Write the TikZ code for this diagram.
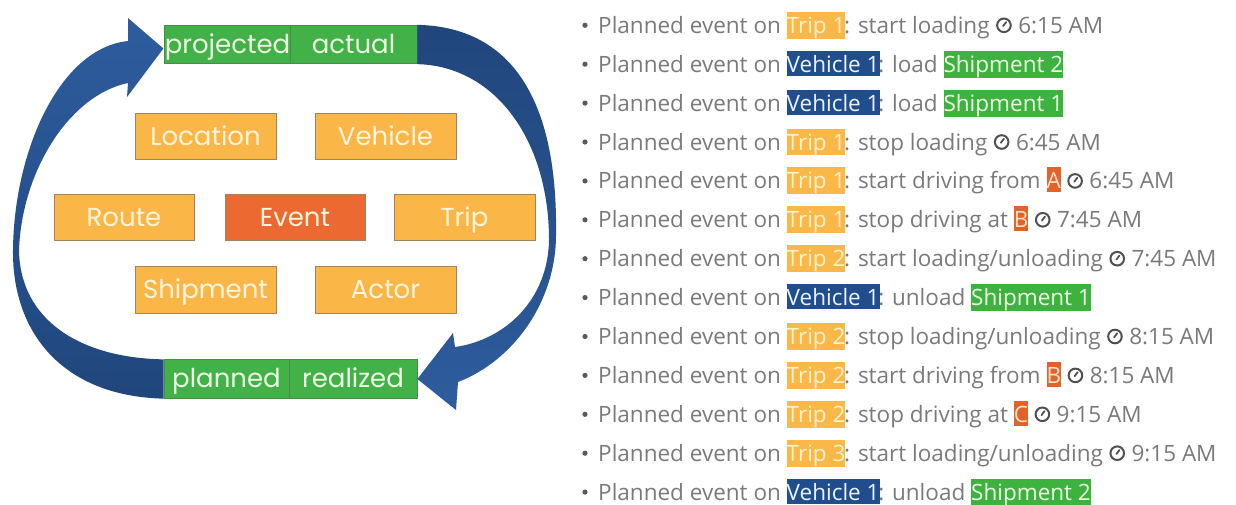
\documentclass[tikz,border=0pt]{standalone}
\usepackage{fontspec}
\usetikzlibrary{calc}
\setmainfont{Open Sans}
\newfontfamily\popfont{Poppins}
\definecolor{arrowlight}{RGB}{46,92,158}
\definecolor{arrowdark}{RGB}{32,70,124}
\definecolor{boxgreen}{RGB}{66,178,72}
\definecolor{greenedge}{RGB}{72,140,72}
\definecolor{boxorange}{RGB}{251,182,72}
\definecolor{orangeedge}{RGB}{165,130,95}
\definecolor{eventred}{RGB}{236,106,50}
\definecolor{lighttext}{RGB}{255,245,220}
\definecolor{greentext}{RGB}{236,250,228}
\definecolor{listgray}{RGB}{122,122,122}
\definecolor{bulletgray}{RGB}{90,90,90}
\definecolor{clockgray}{RGB}{80,80,80}
\definecolor{hltrip}{RGB}{250,184,72}
\definecolor{triptext}{RGB}{255,242,205}
\definecolor{hlveh}{RGB}{32,78,140}
\definecolor{vehtext}{RGB}{235,242,255}
\definecolor{hlship}{RGB}{62,178,62}
\definecolor{shiptext}{RGB}{235,255,230}
\definecolor{hlloc}{RGB}{226,98,42}
\definecolor{loctext}{RGB}{255,225,200}
\setlength{\fboxsep}{0pt}
\newcommand\hlbox[3]{\colorbox{#1}{\rule[-3.5pt]{0pt}{25pt}\textcolor{#2}{#3}}}
\newcommand\tripmark[1]{\hlbox{hltrip}{triptext}{Trip #1}\kern-1.2pt}
\newcommand\vehmark{\hlbox{hlveh}{vehtext}{Vehicle 1}\kern-1.2pt}
\newcommand\shipmark[1]{\hlbox{hlship}{shiptext}{Shipment #1}}
\newcommand\locmark[1]{\hlbox{hlloc}{loctext}{#1}}
\newcommand\clockmark{\tikz[baseline=0pt, x=1pt, y=1pt]{\path (-8.5,0) rectangle (8.5,16);
  \draw[clockgray, line width=2pt] (0,8) circle (6.8pt);
  \draw[clockgray, line width=1.8pt, line cap=round] (-0.8,7.2) -- (2.2,11.2);}}
\begin{document}
\begin{tikzpicture}[x=1pt,y=-1pt,
  obox/.style={draw=orangeedge, line width=0.8pt, fill=boxorange, minimum width=141pt, minimum height=46pt, inner sep=0pt, text height=18pt, text depth=0pt, text=lighttext, font=\popfont\fontsize{26}{26}\selectfont},
  ebox/.style={obox, fill=eventred, minimum width=140pt},
  gbox/.style={draw=greenedge, line width=0.8pt, fill=boxgreen, minimum height=38.5pt, inner sep=0pt, text height=17pt, text depth=0pt, text=greentext, font=\popfont\fontsize{26}{26}\selectfont},
  listline/.style={anchor=base west, inner sep=0pt, text=listgray, font=\fontsize{22.5}{27}\selectfont},
  leftarrow/.style={top color=arrowlight, bottom color=arrowdark, draw=none},
  rightarrow/.style={top color=arrowdark, bottom color=arrowlight, draw=none}
]
\fill[white] (0,0) rectangle (1236,504);
\useasboundingbox (0,0) rectangle (1236,504);

% --- cycle boxes ---
\node[gbox, minimum width=125pt] (projected) at (227.5,44.5) {projected};
\node[gbox, minimum width=127pt] (actual) at (353.5,44.5) {actual};
\node[gbox, minimum width=125pt] (planned) at (226.5,379) {planned};
\node[gbox, minimum width=128pt] (realized) at (353,379) {realized};

\node[obox] (location) at (205.5,136) {Location};
\node[obox] (vehicle) at (385.5,136) {Vehicle};
\node[obox, minimum width=140pt] (route) at (124,217) {Route};
\node[ebox] (event) at (295,217) {Event};
\node[obox] (trip) at (464.5,217) {Trip};
\node[obox, minimum height=47pt] (shipment) at (205.5,289.5) {Shipment};
\node[obox, minimum height=47pt] (actor) at (385.5,289.5) {Actor};

% --- left curved arrow: planned -> projected ---
\shade[leftarrow] (planned.south west)
  .. controls (60,396) and (12,330) .. (13,250)
  .. controls (14,150) and (60,48) .. (128,41)
  -- (128,18) -- ($(projected.west)+(-1,4)$) -- (127,97) -- (128,83)
  .. controls (70,95) and (22,170) .. (19,250)
  .. controls (20,320) and (80,358) .. (planned.north west) -- cycle;

% --- right curved arrow: actual -> realized ---
\shade[rightarrow] (actual.north east)
  .. controls (515,27) and (558,105) .. (556,235)
  .. controls (556,300) and (515,360) .. (458,382)
  -- (456,410) -- (realized.east) -- (453,333) -- (455,347)
  .. controls (505,340) and (548,300) .. (549,240)
  .. controls (549,140) and (495,66) .. (actual.south east) -- cycle;

% --- event list ---
\foreach \yb in {33.3,72.2,111.1,150.0,188.9,227.8,266.7,305.6,344.5,383.4,422.3,461.2,500.1}
  \fill[bulletgray] (585,\yb-8) circle (2.6pt);

\node[listline] (l1) at (598,33.3) {Planned event on \tripmark{1}: start loading \clockmark\ 6:15 AM};
\node[listline] (l2) at (598,72.2) {Planned event on \vehmark: load \shipmark{2}};
\node[listline] (l3) at (598,111.1) {Planned event on \vehmark: load \shipmark{1}};
\node[listline] (l4) at (598,150.0) {Planned event on \tripmark{1}: stop loading \clockmark\ 6:45 AM};
\node[listline] (l5) at (598,188.9) {Planned event on \tripmark{1}: start driving from \locmark{A} \clockmark\ 6:45 AM};
\node[listline] (l6) at (598,227.8) {Planned event on \tripmark{1}: stop driving at \locmark{B} \clockmark\ 7:45 AM};
\node[listline] (l7) at (598,266.7) {Planned event on \tripmark{2}: start loading/unloading \clockmark\ 7:45 AM};
\node[listline] (l8) at (598,305.6) {Planned event on \vehmark: unload \shipmark{1}};
\node[listline] (l9) at (598,344.5) {Planned event on \tripmark{2}: stop loading/unloading \clockmark\ 8:15 AM};
\node[listline] (l10) at (598,383.4) {Planned event on \tripmark{2}: start driving from \locmark{B} \clockmark\ 8:15 AM};
\node[listline] (l11) at (598,422.3) {Planned event on \tripmark{2}: stop driving at \locmark{C} \clockmark\ 9:15 AM};
\node[listline] (l12) at (598,461.2) {Planned event on \tripmark{3}: start loading/unloading \clockmark\ 9:15 AM};
\node[listline] (l13) at (598,500.1) {Planned event on \vehmark: unload \shipmark{2}};
\end{tikzpicture}
\end{document}
